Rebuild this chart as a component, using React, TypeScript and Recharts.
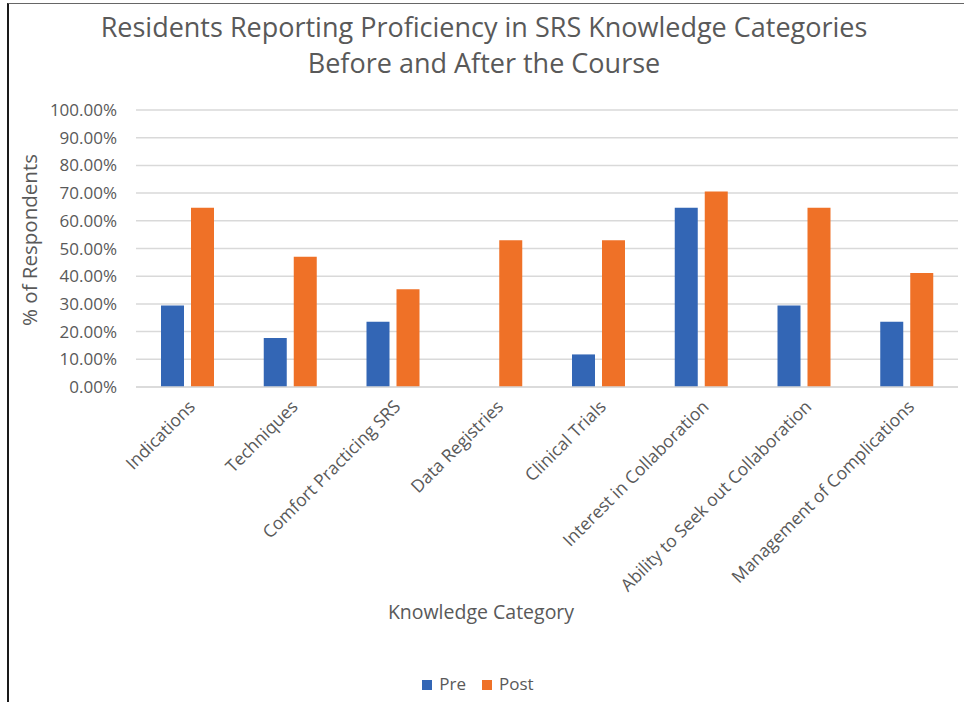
import { BarChart, Bar, XAxis, YAxis, CartesianGrid, Legend } from 'recharts'

const BLUE = '#3366B5'
const ORANGE = '#EF7127'
const TEXT = '#595959'
const GRID = '#D9D9D9'
const FONT = '"Open Sans", sans-serif'

const categories = [
  'Indications',
  'Techniques',
  'Comfort Practicing SRS',
  'Data Registries',
  'Clinical Trials',
  'Interest in Collaboration',
  'Ability to Seek out Collaboration',
  'Management of Complications',
]
const pre = [29.41, 17.65, 23.53, 0, 11.76, 64.71, 29.41, 23.53]
const post = [64.71, 47.06, 35.29, 52.94, 52.94, 70.59, 64.71, 41.18]
const yTicks = [0, 10, 20, 30, 40, 50, 60, 70, 80, 90, 100]

const data = categories.map((name, i) => ({ name, pre: pre[i], post: post[i] }))

export default function App() {
  return (
    <div style={{ position: 'absolute', left: 0, top: 0, width: 964, height: 702, background: '#fff', fontFamily: FONT }}>
      <div
        style={{
          position: 'absolute',
          left: 7,
          top: 3,
          width: 957,
          height: 699,
          borderLeft: '2px solid #1a1a1a',
          borderTop: '1.5px solid #666',
        }}
      />
      <div
        style={{
          position: 'absolute',
          left: 0,
          top: 9,
          width: 968,
          textAlign: 'center',
          color: TEXT,
          fontSize: 27,
          lineHeight: '36px',
        }}
      >
        Residents Reporting Proficiency in SRS Knowledge Categories
        <br />
        Before and After the Course
      </div>
      <BarChart
        width={964}
        height={702}
        data={data}
        margin={{ top: 110, right: 6, left: 0, bottom: 0 }}
        barSize={23}
        barGap={7}
      >
        <CartesianGrid vertical={false} stroke={GRID} strokeWidth={1.5} />
        <XAxis
          dataKey="name"
          height={315}
          interval={0}
          tickLine={false}
          axisLine={{ stroke: GRID, strokeWidth: 1.5 }}
          tickMargin={6}
          angle={-45}
          textAnchor="end"
          tick={{ fontSize: 17.5, fill: TEXT, fontFamily: FONT }}
          label={{
            content: () => (
              <text x={481} y={619} textAnchor="middle" fill={TEXT} fontSize={19.5} fontFamily={FONT}>
                Knowledge Category
              </text>
            ),
          }}
        />
        <YAxis
          width={136}
          domain={[0, 100]}
          ticks={yTicks}
          interval={0}
          axisLine={false}
          tickLine={false}
          tickSize={6}
          tickMargin={13}
          tickFormatter={(v: number) => `${v.toFixed(2)}%`}
          tick={{ fontSize: 17, fill: TEXT, fontFamily: FONT }}
          label={{
            content: () => (
              <text
                x={29}
                y={240}
                textAnchor="middle"
                dominantBaseline="central"
                transform="rotate(-90, 29, 240)"
                fill={TEXT}
                fontSize={20.5}
                fontFamily={FONT}
              >
                % of Respondents
              </text>
            ),
          }}
        />
        <Legend
          layout="horizontal"
          verticalAlign="middle"
          align="center"
          iconType="square"
          iconSize={10}
          itemSorter={(item: any) => (item.dataKey === 'pre' ? 0 : 1)}
          wrapperStyle={{ top: 672, left: 0, width: 972, fontFamily: FONT, fontSize: 17 }}
          formatter={(value: string) => (
            <span style={{ color: TEXT, marginLeft: 3, marginRight: 6 }}>{value}</span>
          )}
        />
        <Bar dataKey="pre" name="Pre" fill={BLUE} isAnimationActive={false} />
        <Bar dataKey="post" name="Post" fill={ORANGE} isAnimationActive={false} />
      </BarChart>
    </div>
  )
}
